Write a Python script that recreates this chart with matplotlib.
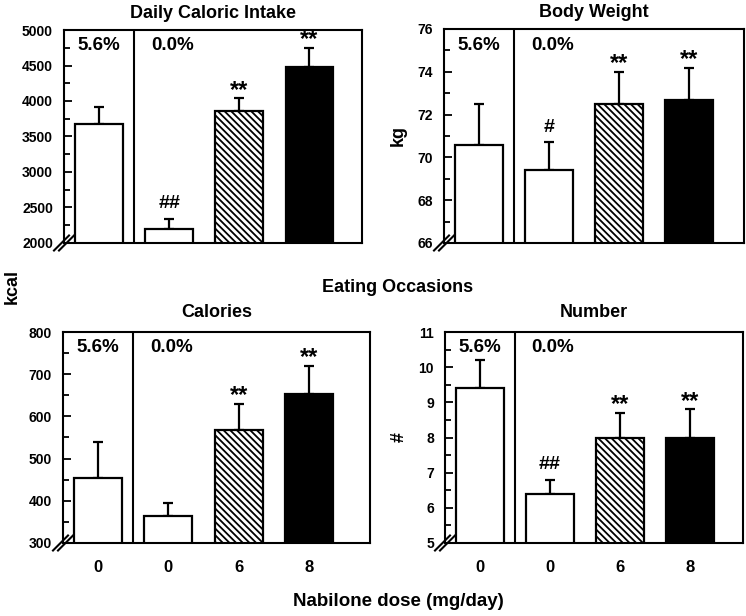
import matplotlib.pyplot as plt
from matplotlib.lines import Line2D
from matplotlib.ticker import MultipleLocator

plt.rcParams['font.family'] = ['Liberation Sans', 'DejaVu Sans']
plt.rcParams['font.weight'] = 'bold'
plt.rcParams['hatch.linewidth'] = 1.3

# data (mean + upper error)
doses = ['0', '0', '6', '8']
intake_mean = [3680, 2200, 3860, 4480]
intake_sem = [240, 140, 180, 270]
weight_mean = [70.6, 69.4, 72.5, 72.7]
weight_sem = [1.9, 1.3, 1.5, 1.5]
cal_mean = [453, 363, 567, 654]
cal_sem = [87, 32, 63, 66]
num_mean = [9.4, 6.4, 8.0, 8.0]
num_sem = [0.8, 0.4, 0.7, 0.8]
intake_sig = ['', '##', '**', '**']
weight_sig = ['', '#', '**', '**']
cal_sig = ['', '', '**', '**']
num_sig = ['', '##', '**', '**']
group_pct = ['5.6%', '0.0%']

fills = ['white', 'white', 'white', 'black']
hatches = ['', '', '\\\\\\\\\\', '']

W, H = 746, 616
fig = plt.figure(figsize=(W / 100, H / 100), dpi=100)


def px_rect(l, r, t, b):
    return [l / W, 1 - b / H, (r - l) / W, (b - t) / H]


def panel(rect, title, mean, sem, sig, ylim, major, minor, xmax, xlabels, ylabel, tpad):
    ax = fig.add_axes(rect)
    x = list(range(len(mean)))
    ax.errorbar(x, mean, yerr=[[0] * len(sem), sem], fmt='none', ecolor='black',
                elinewidth=1.6, capsize=3.5, capthick=1.6, zorder=1)
    ax.bar(x, mean, width=0.68, color=fills, edgecolor='black', linewidth=1.6,
           hatch=hatches, zorder=2)
    ax.axvline(0.5, color='black', lw=1.5)
    ax.set_xlim(-0.5, xmax)
    ax.set_ylim(*ylim)
    ax.yaxis.set_major_locator(MultipleLocator(major))
    ax.yaxis.set_minor_locator(MultipleLocator(minor))
    ax.tick_params(axis='y', which='major', direction='in', length=6, width=1.3,
                   labelsize=10, pad=8)
    ax.tick_params(axis='y', which='minor', direction='in', length=4, width=1.3)
    ax.tick_params(axis='x', length=0, labelsize=12, pad=12)
    ax.set_xticks(x)
    ax.set_xticklabels(xlabels if xlabels else [''] * len(x))
    for s in ax.spines.values():
        s.set_linewidth(1.5)
    ax.set_title(title, fontsize=13, fontweight='bold', pad=tpad)
    if ylabel:
        ax.set_ylabel(ylabel, fontsize=13, fontweight='bold', labelpad=8)
    tr = ax.get_xaxis_transform()
    ax.text(0, 0.925, group_pct[0], transform=tr, ha='center', va='center', fontsize=13.5)
    ax.text(0.74, 0.925, group_pct[1], transform=tr, ha='left', va='center', fontsize=13.5)
    for i, s in enumerate(sig):
        if s.startswith('*'):
            ax.annotate(s, xy=(i, mean[i] + sem[i]), xytext=(0, 8),
                        textcoords='offset pixels', ha='center', va='center', fontsize=17)
        elif s:
            ax.annotate(s, xy=(i, mean[i] + sem[i]), xytext=(0, 15),
                        textcoords='offset pixels', ha='center', va='center', fontsize=14)
    # axis break marks at the bottom-left corner
    cx, cy = rect[0] * W, (rect[1]) * H
    for dx in (-2.5, 2.5):
        fig.add_artist(Line2D([(cx + dx - 7.5) / W, (cx + dx + 7.5) / W],
                              [(cy - 7.5) / H, (cy + 7.5) / H],
                              transform=fig.transFigure, color='black', lw=1.5))
    return ax


panel(px_rect(64, 362, 30, 243), 'Daily Caloric Intake', intake_mean, intake_sem, intake_sig,
      (2000, 5000), 500, 250, 3.75, None, None, 8.5)
panel(px_rect(444, 744, 29, 243), 'Body Weight', weight_mean, weight_sem, weight_sig,
      (66, 76), 2, 1, 3.78, None, 'kg', 8.5)
panel(px_rect(63, 370, 332, 543), 'Calories', cal_mean, cal_sem, cal_sig,
      (300, 800), 100, 50, 3.87, doses, None, 11)
panel(px_rect(445, 743, 332, 543), 'Number', num_mean, num_sem, num_sig,
      (5, 11), 1, 0.5, 3.76, doses, '#', 11)

fig.text(12 / W, 1 - 287 / H, 'kcal', rotation=90, ha='center', va='center', fontsize=13)
fig.text(398 / W, 1 - 288 / H, 'Eating Occasions', ha='center', va='center', fontsize=13)
fig.text(398 / W, 1 - 602 / H, 'Nabilone dose (mg/day)', ha='center', va='center', fontsize=13.5)

fig.savefig('out.png', dpi=100)
